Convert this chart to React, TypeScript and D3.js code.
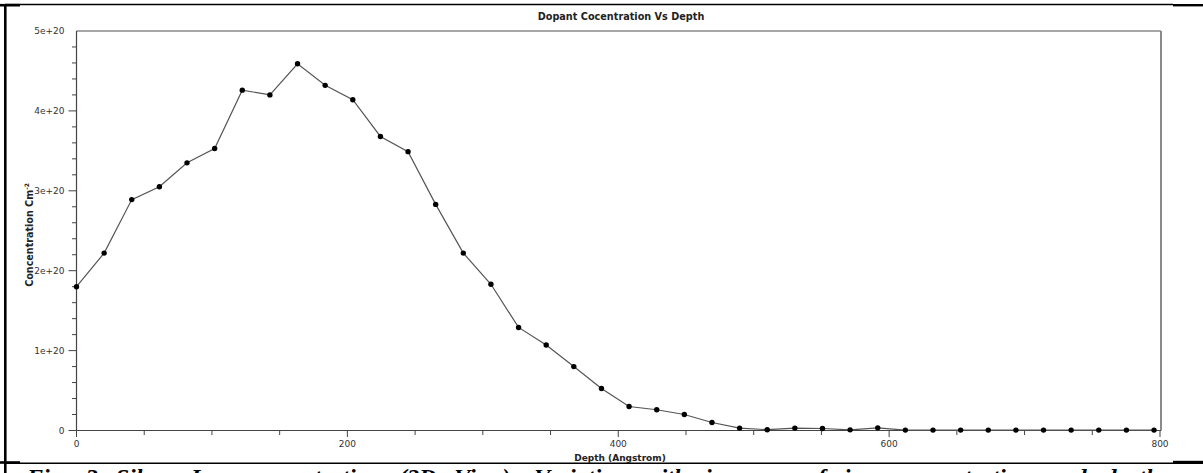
import React from "react";
import * as d3 from "d3";

const depths = [0, 20.4, 40.8, 61.2, 81.6, 102, 122.4, 142.8, 163.2, 183.6, 204, 224.4, 244.8, 265.2, 285.6, 306, 326.4, 346.8, 367.2, 387.6, 408, 428.4, 448.8, 469.2, 489.6, 510, 530.4, 550.8, 571.2, 591.6, 612, 632.4, 652.8, 673.2, 693.6, 714, 734.4, 754.8, 775.2, 795.6];
const concentration = [1.8e20, 2.22e20, 2.89e20, 3.05e20, 3.35e20, 3.53e20, 4.26e20, 4.2e20, 4.59e20, 4.32e20, 4.14e20, 3.68e20, 3.49e20, 2.83e20, 2.22e20, 1.83e20, 1.29e20, 1.07e20, 0.8e20, 0.525e20, 0.3e20, 0.26e20, 0.2e20, 0.1e20, 0.03e20, 0.01e20, 0.03e20, 0.025e20, 0.008e20, 0.033e20, 0.005e20, 0.005e20, 0.005e20, 0.005e20, 0.005e20, 0.005e20, 0.005e20, 0.005e20, 0.005e20, 0.005e20];
const yTickLabels = ["0", "1e+20", "2e+20", "3e+20", "4e+20", "5e+20"];
const xTickLabels = ["0", "200", "400", "600", "800"];
const title = "Dopant Cocentration Vs Depth";
const xTitle = "Depth (Angstrom)";
const yTitle = "Concentration Cm";
const caption = "Fig. 3 Silver Ion concentration (2D View). Variation with increase of ion concentration and depth";

export default function App() {
  const W = 1203, H = 473;
  const left = 76.5, right = 1161, top = 31, bottom = 430.5;
  const x = d3.scaleLinear().domain([0, 800]).range([left, 1160]);
  const y = d3.scaleLinear().domain([0, 5e20]).range([bottom, top]);
  const pts = depths.map((d, i) => [d, concentration[i]] as [number, number]);
  const line = d3.line<[number, number]>().x(d => x(d[0])).y(d => y(d[1]));
  const yMinor = d3.range(0, 5e20 + 1, 2e19);
  const yMajor = yTickLabels.map(t => +t);
  const xMinor = d3.range(0, 801, 50);
  const xMajor = xTickLabels.map(t => +t);
  const axisColor = "#444";
  const tickFont = "'DejaVu Sans', Verdana, sans-serif";
  return (
    <svg width={W} height={H} style={{ position: "absolute", left: 0, top: 0, background: "#fff" }}>
      {/* outer table borders */}
      <g stroke="#000" fill="none">
        <line x1={5.3} y1={4} x2={5.3} y2={H} strokeWidth={2.6} />
        <line x1={5} y1={4.5} x2={1173} y2={4.5} strokeWidth={1.4} />
        <line x1={0} y1={5.2} x2={20} y2={5.2} strokeWidth={2.6} />
        <line x1={1173} y1={5.2} x2={W} y2={5.2} strokeWidth={2.4} />
        <line x1={5} y1={463.2} x2={W} y2={463.2} strokeWidth={1.4} />
        <line x1={0} y1={462.5} x2={20} y2={462.5} strokeWidth={2.6} />
        <line x1={1173} y1={462} x2={W} y2={462} strokeWidth={2.4} />
      </g>
      {/* plot frame */}
      <line x1={left} y1={top} x2={right} y2={top} stroke="#8a8a8a" strokeWidth={1.5} />
      <line x1={right} y1={top} x2={right} y2={bottom} stroke="#8a8a8a" strokeWidth={2} />
      {/* axes */}
      <line x1={left} y1={top} x2={left} y2={bottom} stroke={axisColor} strokeWidth={1.2} />
      <line x1={left} y1={bottom} x2={right} y2={bottom} stroke={axisColor} strokeWidth={1.2} />
      {yMinor.map((v, i) => {
        const major = yMajor.some(m => Math.abs(m - v) < 1e15);
        return <line key={"ym" + i} x1={left - (major ? 8 : 4.5)} x2={left} y1={y(v)} y2={y(v)} stroke={axisColor} strokeWidth={1} />;
      })}
      {xMinor.map((v, i) => {
        const major = xMajor.includes(v);
        return <line key={"xm" + i} x1={x(v)} x2={x(v)} y1={bottom} y2={bottom + (major ? 6.5 : 4.5)} stroke={axisColor} strokeWidth={1} />;
      })}
      {yTickLabels.map((t, i) => (
        <text key={"yl" + i} x={left - 12} y={y(+t)} dy="0.35em" textAnchor="end" fontFamily={tickFont} fontSize={9} fill="#333">{t}</text>
      ))}
      {xTickLabels.map((t, i) => (
        <text key={"xl" + i} x={x(+t)} y={447} textAnchor="middle" fontFamily={tickFont} fontSize={9} fill="#333">{t}</text>
      ))}
      {/* titles */}
      <text x={621} y={20} textAnchor="middle" fontFamily={tickFont} fontWeight="bold" fontSize={9.7} fill="#222">{title}</text>
      <text x={620} y={461} textAnchor="middle" fontFamily={tickFont} fontWeight="bold" fontSize={9} fill="#222">{xTitle}</text>
      <text transform="translate(33,235) rotate(-90)" textAnchor="middle" fontFamily={tickFont} fontWeight="bold" fontSize={9.6} fill="#222">
        {yTitle}
        <tspan dy={-4} fontSize={6}>-2</tspan>
      </text>
      {/* series */}
      <path d={line(pts) || ""} fill="none" stroke="#555" strokeWidth={1.2} />
      {pts.map((p, i) => (
        <circle key={"c" + i} cx={x(p[0])} cy={y(p[1])} r={2.7} fill="#000" />
      ))}
      {/* caption (clipped by the bottom edge, as in the reference) */}
      <text x={27} y={485} fontFamily="'Liberation Serif', 'Times New Roman', serif" fontStyle="italic" fontWeight="bold" fontSize={24} wordSpacing={12} fill="#000">{caption}</text>
    </svg>
  );
}
